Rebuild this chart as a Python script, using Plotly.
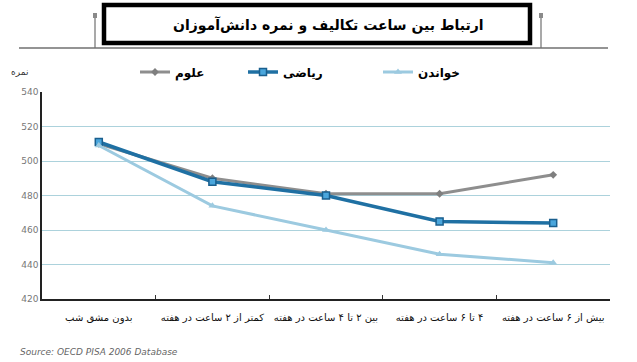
import plotly.graph_objects as go

categories = ["بدون مشق شب", "کمتر از ۲ ساعت در هفته", "بین ۲ تا ۴ ساعت در هفته",
              "۴ تا ۶ ساعت در هفته", "بیش از ۶ ساعت در هفته"]
science = [510, 490, 481, 481, 492]
math = [511, 488, 480, 465, 464]
reading = [509, 474, 460, 446, 441]
y_ticks = [420, 440, 460, 480, 500, 520, 540]

FONT = "DejaVu Sans"
W, H = 637, 362
L, R, T, B = 42, 27, 92, 63
pw, ph = W - L - R, H - T - B

def px(x):
    return (x - L) / pw

def py(y):
    return (H - B - y) / ph

tick_text = ["\u200f" + c + "\u200f" for c in categories]

fig = go.Figure()
fig.add_trace(go.Scatter(x=categories, y=science, name="علوم", mode="lines+markers",
                         line=dict(color="#8e8e8e", width=3), legend="legend",
                         marker=dict(symbol="diamond", size=6, color="#7f7f7f")))
fig.add_trace(go.Scatter(x=categories, y=math, name="ریاضی", mode="lines+markers",
                         line=dict(color="#1f70a3", width=3.5), legend="legend2",
                         marker=dict(symbol="square", size=7, color="#4aa6dc",
                                     line=dict(color="#1a5f8e", width=1.5))))
fig.add_trace(go.Scatter(x=categories, y=reading, name="خواندن", mode="lines+markers",
                         line=dict(color="#9ccae0", width=3), legend="legend3",
                         marker=dict(symbol="triangle-up", size=7, color="#9ccae0")))

shapes = [
    dict(type="line", xref="paper", yref="paper", x0=px(19), x1=px(608), y0=py(48), y1=py(48),
         line=dict(color="#707070", width=1.5)),
    dict(type="line", xref="paper", yref="paper", x0=px(95), x1=px(95), y0=py(48), y1=py(14),
         line=dict(color="#707070", width=1.2)),
    dict(type="line", xref="paper", yref="paper", x0=px(541), x1=px(541), y0=py(48), y1=py(14),
         line=dict(color="#707070", width=1.2)),
    dict(type="rect", xref="paper", yref="paper", x0=px(93), x1=px(97), y0=py(18), y1=py(13),
         fillcolor="#8a8a8a", line=dict(width=0)),
    dict(type="rect", xref="paper", yref="paper", x0=px(539), x1=px(543), y0=py(18), y1=py(13),
         fillcolor="#8a8a8a", line=dict(width=0)),
    dict(type="rect", xref="paper", yref="paper", x0=px(104), x1=px(530), y0=py(43), y1=py(5),
         fillcolor="white", line=dict(color="black", width=4.5)),
]

annotations = [
    dict(text="<b>ارتباط بین ساعت تکالیف و نمره دانش‌آموزان</b>", xref="paper", yref="paper",
         x=px(328), y=py(25), showarrow=False, font=dict(family=FONT, size=14, color="black"),
         xanchor="center", yanchor="middle"),
    dict(text="نمره", xref="paper", yref="paper", x=px(30), y=py(72), showarrow=False,
         font=dict(family=FONT, size=9, color="#333333"), xanchor="right", yanchor="middle"),
    dict(text="<i>Source: OECD PISA 2006 Database</i>", xref="paper", yref="paper",
         x=px(18), y=py(352), showarrow=False, font=dict(family=FONT, size=9, color="#666666"),
         xanchor="left", yanchor="middle"),
]

def leg(xpix):
    return dict(orientation="h", x=px(xpix), y=py(72), xanchor="left", yanchor="middle",
                font=dict(family=FONT, size=12, color="black", weight="bold"),
                itemwidth=30, bgcolor="rgba(0,0,0,0)")

fig.update_layout(
    width=W, height=H,
    margin=dict(l=L, r=R, t=T, b=B, autoexpand=False),
    paper_bgcolor="white", plot_bgcolor="white",
    showlegend=True,
    legend=leg(135), legend2=leg(243), legend3=leg(378),
    shapes=shapes, annotations=annotations,
    font=dict(family=FONT),
)
fig.update_xaxes(range=[-0.5, 4.5], showgrid=False, showline=True, linecolor="#222222",
                 linewidth=1.5, ticks="inside", ticklen=4, tickcolor="#333333",
                 tickson="boundaries", tickmode="array", tickvals=categories,
                 ticktext=tick_text, tickfont=dict(family=FONT, size=10, color="#111111"),
                 ticklabelstandoff=8, fixedrange=True)
fig.update_yaxes(range=[420, 540], tickvals=y_ticks, showgrid=True, gridcolor="#acd2dc",
                 gridwidth=1, showline=True, linecolor="#222222", linewidth=1.5,
                 zeroline=False, ticks="", tickfont=dict(family=FONT, size=9, color="#777777"),
                 fixedrange=True)

fig.write_html("out.html", config={"displayModeBar": False},
               post_script="document.body.style.margin='0';")
